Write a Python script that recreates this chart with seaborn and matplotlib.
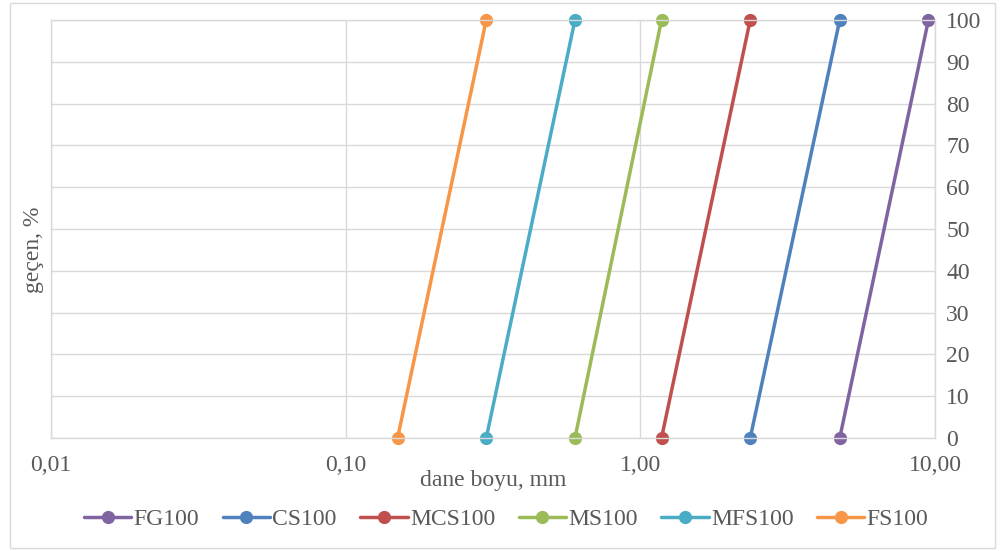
import pandas as pd
import numpy as np
import matplotlib.pyplot as plt
import seaborn as sns
from matplotlib.patches import Rectangle

# sieve sizes (mm) for each gradation, passing % at each end
series = ['FG100', 'CS100', 'MCS100', 'MS100', 'MFS100', 'FS100']
size_low = [4.75, 2.36, 1.18, 0.60, 0.30, 0.15]
size_high = [9.50, 4.75, 2.36, 1.18, 0.60, 0.30]
passing = [0, 100]
colors = ['#8064A2', '#4F81BD', '#C0504D', '#9BBB59', '#4BACC6', '#F79646']

rows = []
for name, lo, hi in zip(series, size_low, size_high):
    rows.append({'seri': name, 'boyut': lo, 'gecen': passing[0]})
    rows.append({'seri': name, 'boyut': hi, 'gecen': passing[1]})
df = pd.DataFrame(rows)

sns.set_theme(style="white")
plt.rcParams['font.family'] = ['Liberation Serif', 'DejaVu Serif']

fig = plt.figure(figsize=(10.08, 5.51), dpi=100)
ax = fig.add_axes([51/1008, 1 - 438/551, (935-51)/1008, (438-20)/551])

sns.lineplot(data=df, x='boyut', y='gecen', hue='seri', hue_order=series,
             palette=colors, marker='o', markersize=9.5, markeredgewidth=0,
             linewidth=2.5, ax=ax, legend=True, estimator=None, sort=False)
for ln in ax.lines:
    ln.set_clip_on(False)

ax.set_xscale('log')
ax.set_xlim(0.01, 10)
ax.set_ylim(0, 100)
ax.set_xticks([0.01, 0.1, 1, 10])
ax.set_xticklabels(['0,01', '0,10', '1,00', '10,00'])
ax.set_xticks([], minor=True)
ax.set_yticks(np.arange(0, 101, 10))
ax.yaxis.tick_right()
ax.tick_params(axis='both', labelsize=17, colors='#595959', length=0)
ax.tick_params(axis='x', pad=12)
ax.tick_params(axis='y', pad=8)
ax.grid(True, color='#D9D9D9', linewidth=1)
for s in ax.spines.values():
    s.set_color('#D9D9D9')
    s.set_linewidth(1)

ax.set_xlabel('dane boyu, mm', fontsize=17, color='#595959', labelpad=-4)
ax.set_ylabel('geçen, %', fontsize=17, color='#595959')
ax.yaxis.set_label_position('left')
ax.yaxis.set_label_coords(-0.008, 0.45)

handles, labels = ax.get_legend_handles_labels()
ax.legend(handles, labels, loc='center', bbox_to_anchor=(0.515, -0.195),
          ncol=6, frameon=False, fontsize=17, handlelength=2.0,
          columnspacing=1.0, handletextpad=0.1, labelcolor='#595959')

fig.patches.append(Rectangle((10/1008, 3/551), 985/1008, 545/551,
                             transform=fig.transFigure, fill=False,
                             edgecolor='#D9D9D9', linewidth=1))

plt.savefig('out.png', dpi=100)
plt.close()
